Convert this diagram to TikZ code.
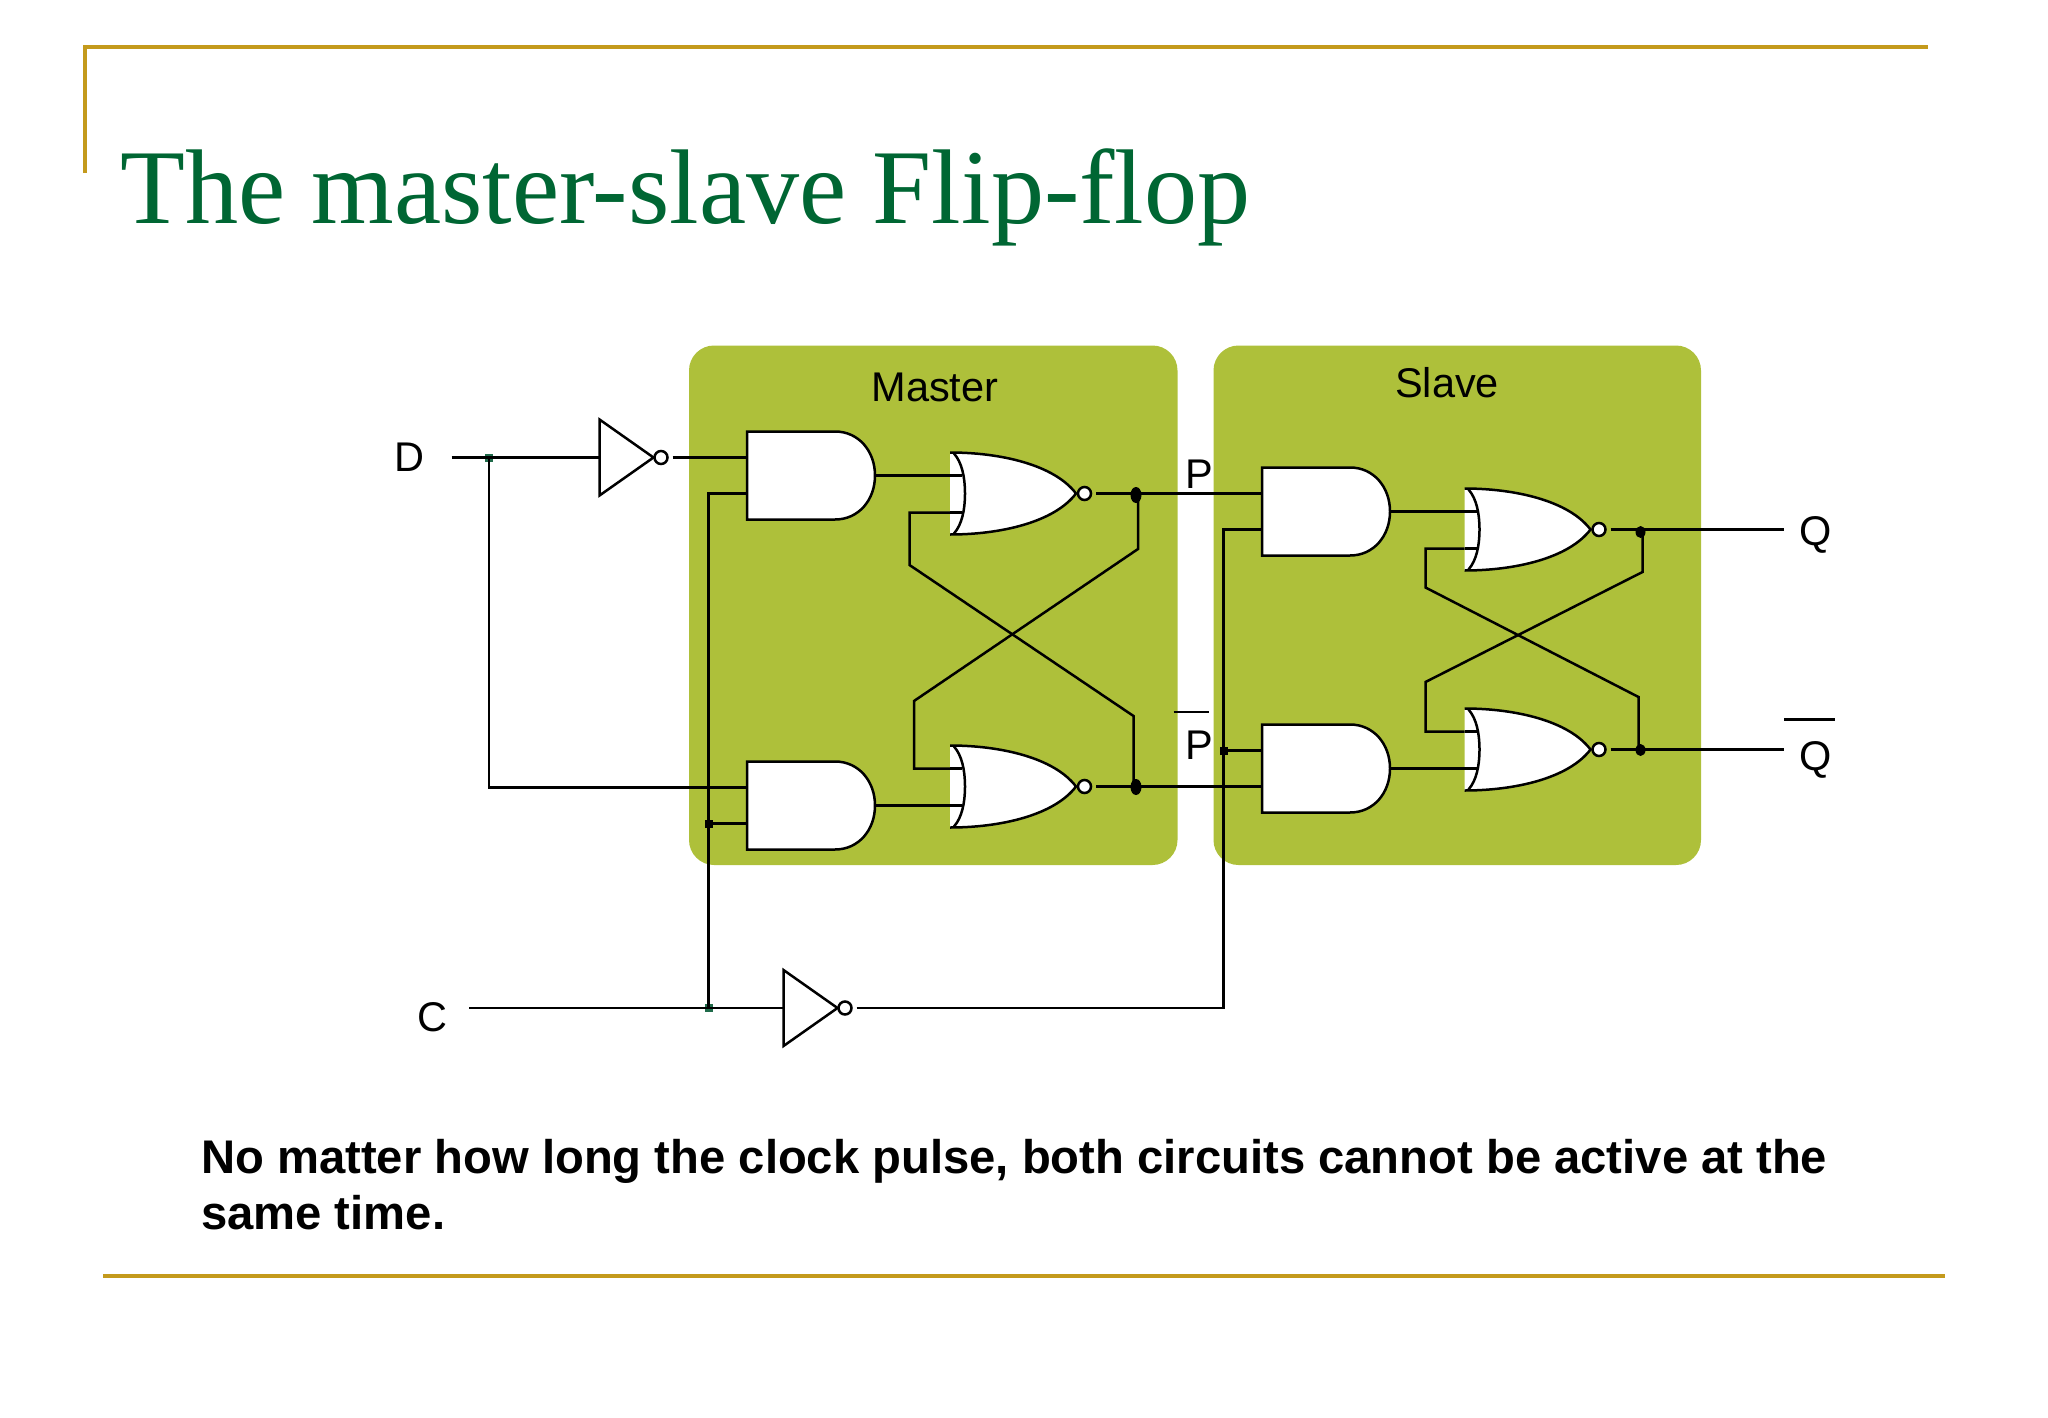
\documentclass[tikz,border=0pt]{standalone}
\usepackage{fontspec}
\setmainfont{Liberation Sans}
\newfontfamily\titlefont{Liberation Serif}
\usetikzlibrary{shapes.geometric}
\definecolor{boxgreen}{HTML}{AEC03A}
\definecolor{gold}{HTML}{C49A1C}
\definecolor{titlegreen}{HTML}{006633}
\definecolor{sqgreen}{HTML}{1F6B4A}
\tikzset{
  wire/.style={draw=black,line width=2.5pt},
  panel/.style={fill=boxgreen,draw=none,rounded corners=25pt},
  rule/.style={draw=gold,line width=4pt},
  lbl/.style={inner sep=0pt,font=\fontsize{41.5}{41.5}\selectfont},
  sq/.style={rectangle,fill=black,minimum size=8pt,inner sep=0pt},
  gsq/.style={rectangle,fill=sqgreen,minimum size=8pt,inner sep=0pt},
  dotj/.style={ellipse,fill=black,minimum width=11pt,minimum height=16pt,inner sep=0pt},
  andg/.pic={
    \path[wire,fill=white] (0,0) -- (88,0) .. controls (112,0) and (128,20) .. (128,44)
      .. controls (128,68) and (112,88) .. (88,88) -- (0,88) -- cycle;
    \coordinate (-a) at (0,26);
    \coordinate (-b) at (0,62);
    \coordinate (-o) at (128,44);
  },
  norg/.pic={
    \path[fill=white] (0,0) .. controls (50,0) and (104,12) .. (126,41)
      .. controls (104,70) and (50,82) .. (0,82) -- cycle;
    \path[wire] (0,0) .. controls (50,0) and (104,12) .. (126,41)
      .. controls (104,70) and (50,82) .. (0,82);
    \path[wire] (4,1) .. controls (12,10) and (15,25) .. (15,41)
      .. controls (15,57) and (12,72) .. (4,81);
    \path[wire,fill=white] (134.5,41) circle[radius=6.5pt];
    \coordinate (-a) at (0,23);
    \coordinate (-b) at (0,60);
    \path[wire] (-a) -- (12,23) (-b) -- (12,60);
    \coordinate (-o) at (146,41);
  },
  invg/.pic={
    \path[wire,fill=white] (0,-38) -- (54,0) -- (0,38) -- cycle;
    \path[wire,fill=white] (61.5,0) circle[radius=6.5pt];
    \coordinate (-a) at (0,0);
    \coordinate (-o) at (73,0);
  },
}
\begin{document}
\begin{tikzpicture}[x=1pt,y=-1pt]
\useasboundingbox (0,0) rectangle (2048,1418);
% slide rules
\coordinate (ruleA) at (85,173);
\coordinate (ruleB) at (85,47.5);
\coordinate (ruleC) at (1928,47.5);
\coordinate (ruleD) at (103,1276);
\coordinate (ruleE) at (1945,1276);
\draw[rule] (ruleA) -- (ruleB) -- (ruleC);
\draw[rule] (ruleD) -- (ruleE);
\node[anchor=base west,inner sep=0pt,text=titlegreen,font=\titlefont\fontsize{106.2}{106.2}\selectfont] (title) at (120,223) {The master-slave Flip-flop};
% panels
\path[panel] (689,345.5) rectangle (1177.5,865);
\path[panel] (1213.5,345.5) rectangle (1701,865);
\node[lbl] (lmaster) at (935,387) {Master};
\node[lbl] (lslave) at (1447,383) {Slave};
% gates
\pic (inv1) at (599.5,457.5) {invg};
\pic (inv2) at (783.5,1008) {invg};
\pic (m1) at (747,431.5) {andg};
\pic (m2) at (747,761.5) {andg};
\pic (n1) at (950,452.5) {norg};
\pic (n2) at (950,745.5) {norg};
\pic (s1) at (1262,467.5) {andg};
\pic (s2) at (1262,724.5) {andg};
\pic (t1) at (1464.5,488.5) {norg};
\pic (t2) at (1464.5,708.5) {norg};
% labels
\node[lbl] (lD) at (409,457) {D};
\node[lbl] (lC) at (432,1017) {C};
\node[lbl] (lP) at (1199,474) {P};
\node[lbl] (lPb) at (1199,745) {P};
\node[lbl] (lQ) at (1816,535) {Q};
\node[lbl] (lQb) at (1816,760) {Q};
\coordinate (pba) at (1173.5,712);
\coordinate (pbb) at (1208.5,712);
\coordinate (qba) at (1784,719.5);
\coordinate (qbb) at (1835,719.5);
\draw[wire] (pba) -- (pbb);
\draw[wire] (qba) -- (qbb);
% free ends
\coordinate (Din) at (451.5,457.5);
\coordinate (Cin) at (469,1008);
\coordinate (Qout) at (1784,529.5);
\coordinate (Qbout) at (1784,749.5);
% junctions
\node[gsq] (jD) at (489,457.5) {};
\node[gsq] (jC) at (708.5,1008) {};
\node[sq] (jC2) at (708.5,823.5) {};
\node[sq] (jS) at (1223.5,750.5) {};
\node[dotj] (jm1) at (1136,495) {};
\node[dotj] (jm2) at (1136,787) {};
\node[dotj,minimum width=10pt,minimum height=12pt] (jt1) at (1640.5,532) {};
\node[dotj,minimum width=10pt,minimum height=12pt] (jt2) at (1640.5,750) {};
% wires
\draw[wire] (Din) -- (inv1-a);
\draw[wire] (inv1-o) -- (m1-a);
\draw[wire] (jD.center) |- (m2-a);
\draw[wire] (Cin) -- (inv2-a);
\draw[wire] (jC.center) |- (m1-b);
\draw[wire] (jC2.center) -- (m2-b);
\draw[wire] (inv2-o) -| (1223.5,529.5) -- (s1-b);
\draw[wire] (jS.center) -- (s2-a);
\draw[wire] (m1-o) -- (n1-a);
\draw[wire] (m2-o) -- (n2-b);
\draw[wire] (s1-o) -- (t1-a);
\draw[wire] (s2-o) -- (t2-b);
\draw[wire] (n1-o) -- (s1-a);
\draw[wire] (n2-o) -- (s2-b);
\draw[wire] (t1-o) -- (Qout);
\draw[wire] (t2-o) -- (Qbout);
% cross-coupling
\draw[wire] (n1-b) -- (909.5,512.5) -- (909.5,565) -- (1133.5,716) -- (1133.5,787);
\draw[wire] (jm1.center) ++(2,0) -- (1138,549) -- (914,701) -- (914,768.5) -- (n2-a);
\draw[wire] (t1-b) -- (1425.5,548.5) -- (1425.5,587.5) -- (1638.5,697) -- (1638.5,750);
\draw[wire] (jt1.center) ++(2,0) -- (1642.5,572) -- (1425.5,682) -- (1425.5,731.5) -- (t2-a);
% caption
\node[anchor=north west,inner sep=0pt,align=left,font=\bfseries\fontsize{47.2}{56}\selectfont] (cap) at (201,1139) {No matter how long the clock pulse, both circuits cannot be active at the\\same time.};
\end{tikzpicture}
\end{document}
